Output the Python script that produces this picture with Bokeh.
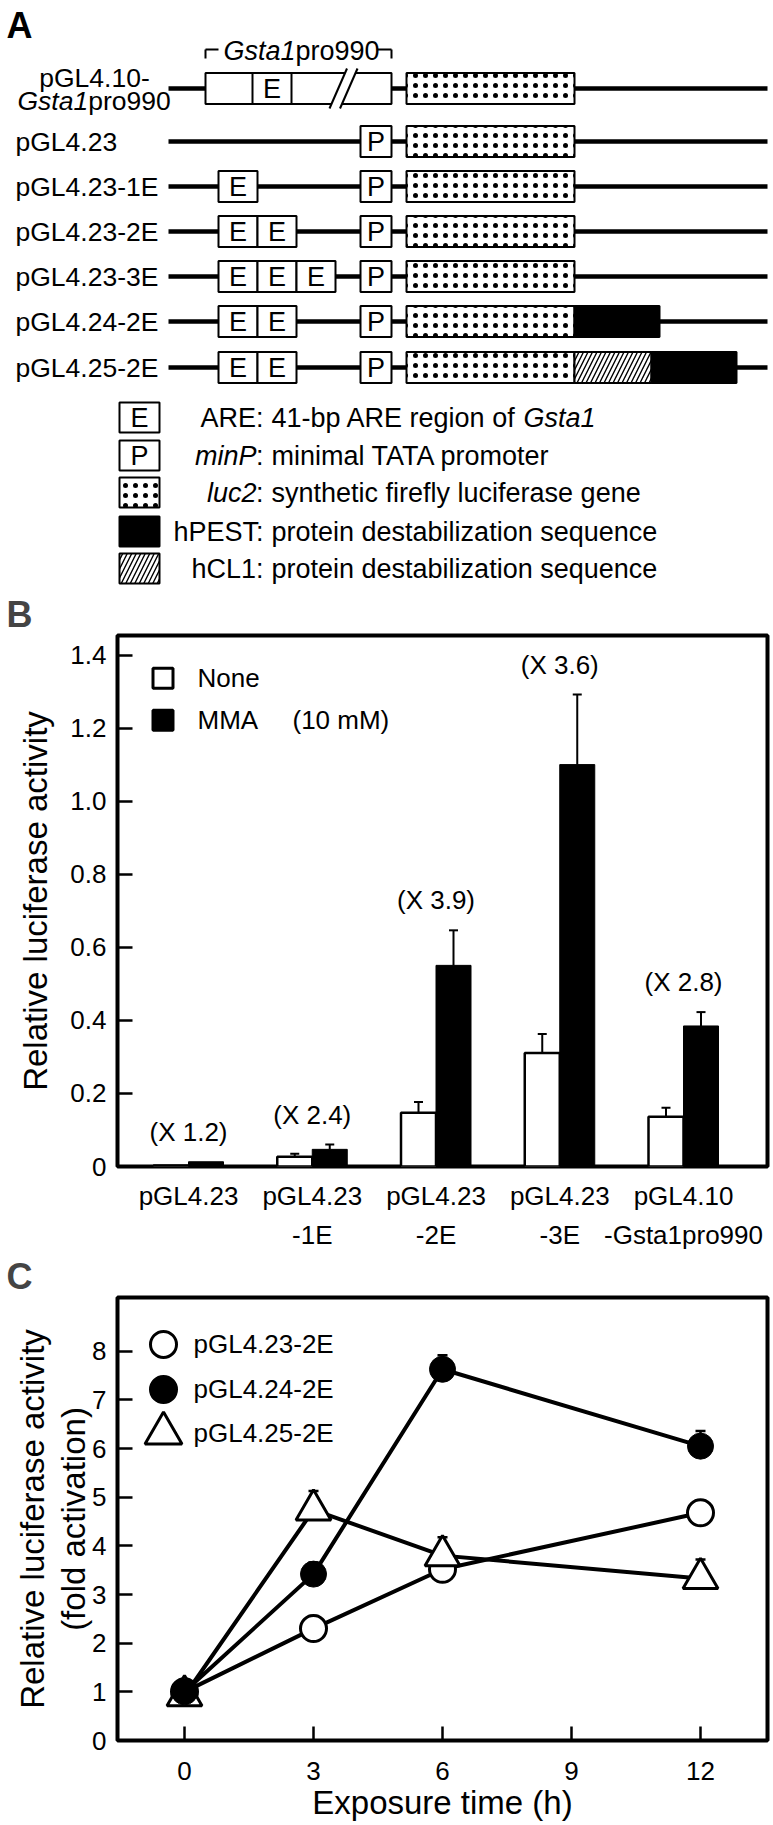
import math
from bokeh.plotting import figure
from bokeh.models import (Range1d, Label, FixedTicker, Whisker, TeeHead,
                          ColumnDataSource, PrintfTickFormatter)
from bokeh.layouts import column
from bokeh.embed import file_html
from bokeh.resources import INLINE
from bokeh.core.properties import value

FONT = "Liberation Sans"

# ---------------- data ----------------
# Panel A: reporter constructs
constructs = ["pGL4.10-Gsta1pro990", "pGL4.23", "pGL4.23-1E", "pGL4.23-2E",
              "pGL4.23-3E", "pGL4.24-2E", "pGL4.25-2E"]
are_copies = [0, 0, 1, 2, 3, 2, 2]
has_minp = [False, True, True, True, True, True, True]
tails = [[], [], [], [], [], ["hPEST"], ["hCL1", "hPEST"]]
legend_prefix = ["ARE", "minP", "luc2", "hPEST", "hCL1"]
legend_prefix_italic = [False, True, True, False, False]
legend_desc = ["41-bp ARE region of ", "minimal TATA promoter",
               "synthetic firefly luciferase gene",
               "protein destabilization sequence",
               "protein destabilization sequence"]

# Panel B: relative luciferase activity
b_groups = ["pGL4.23", "pGL4.23\n-1E", "pGL4.23\n-2E", "pGL4.23\n-3E",
            "pGL4.10\n-Gsta1pro990"]
b_none = [0.003, 0.027, 0.147, 0.311, 0.136]
b_none_err = [0.0, 0.008, 0.030, 0.052, 0.025]
b_mma = [0.013, 0.047, 0.551, 1.101, 0.385]
b_mma_err = [0.0, 0.013, 0.096, 0.192, 0.038]
b_fold = ["(X 1.2)", "(X 2.4)", "(X 3.9)", "(X 3.6)", "(X 2.8)"]
b_yticks = [0, 0.2, 0.4, 0.6, 0.8, 1.0, 1.2, 1.4]

# Panel C: fold activation time course
c_time = [0, 3, 6, 12]
c_23 = [1.0, 2.30, 3.52, 4.68]
c_23_err = [0.0, 0.26, 0.15, 0.25]
c_24 = [1.0, 3.42, 7.63, 6.05]
c_24_err = [0.0, 0.24, 0.29, 0.31]
c_25 = [0.92, 4.74, 3.80, 3.33]
c_25_err = [0.0, 0.39, 0.38, 0.39]
c_xticks = [0, 3, 6, 9, 12]
c_yticks = [0, 1, 2, 3, 4, 5, 6, 7, 8]
c_names = ["pGL4.23-2E", "pGL4.24-2E", "pGL4.25-2E"]


def lab(p, x, y, text, size="26px", align="left", style="normal",
        baseline="middle", angle=0.0, xoff=0, yoff=0):
    p.add_layout(Label(x=x, y=y, text=text, text_font=FONT, text_font_size=size,
                       text_align=align, text_baseline=baseline,
                       text_font_style=style, angle=angle, x_offset=xoff,
                       y_offset=yoff, text_color="black"))


W = 773

# ================= Panel A (schematic) =================
pa = figure(width=W, height=590, x_range=Range1d(0, W), y_range=Range1d(590, 0),
            x_axis_location=None, y_axis_location=None, toolbar_location=None,
            output_backend="svg", min_border=0, outline_line_color=None,
            frame_align=False)
pa.grid.visible = False

ROW_Y = [88, 141, 186, 231, 276, 321, 367]
BH = 15.5
ARE_X0, ARE_W = 218, 39
MINP = (360, 391)
LUC = (406, 574)
TAIL_W = {"hPEST": 85, "hCL1": 77}
AF = "27px"

lab(pa, 6, 25, "A", size="36px", style="bold")

# backbone lines
pa.segment(x0=[168] * len(ROW_Y), y0=ROW_Y, x1=[767] * len(ROW_Y), y1=ROW_Y,
           line_width=4.5, line_color="black")

white = dict(l=[], r=[], t=[], b=[])
letters = dict(x=[], y=[], t=[])
luc = dict(l=[], r=[], t=[], b=[])
black = dict(l=[], r=[], t=[], b=[])
hatch = dict(l=[], r=[], t=[], b=[])


def add(d, l, r, yc, h=BH):
    d["l"].append(l); d["r"].append(r); d["t"].append(yc - h); d["b"].append(yc + h)


for i, name in enumerate(constructs):
    yc = ROW_Y[i]
    if i == 0:
        add(white, 205, 391, yc)
        add(white, 252, 291, yc)
        letters["x"].append(271.5); letters["y"].append(yc); letters["t"].append("E")
    for k in range(are_copies[i]):
        x0 = ARE_X0 + k * ARE_W
        add(white, x0, x0 + ARE_W, yc)
        letters["x"].append(x0 + ARE_W / 2); letters["y"].append(yc); letters["t"].append("E")
    if has_minp[i]:
        add(white, MINP[0], MINP[1], yc)
        letters["x"].append((MINP[0] + MINP[1]) / 2); letters["y"].append(yc); letters["t"].append("P")
    add(luc, LUC[0], LUC[1], yc)
    x0 = LUC[1]
    for t in tails[i]:
        add(black if t == "hPEST" else hatch, x0, x0 + TAIL_W[t], yc)
        x0 += TAIL_W[t]

# legend boxes
LEG_Y = [417, 455, 492, 531, 568]
for key, yc in zip(legend_prefix, LEG_Y):
    if key == "ARE":
        add(white, 119, 159, yc, 15)
        letters["x"].append(139); letters["y"].append(yc); letters["t"].append("E")
    elif key == "minP":
        add(white, 119, 159, yc, 15)
        letters["x"].append(139); letters["y"].append(yc); letters["t"].append("P")
    elif key == "luc2":
        add(luc, 119, 159, yc, 15)
    elif key == "hPEST":
        add(black, 119, 159, yc, 15)
    else:
        add(hatch, 119, 159, yc, 15)

pa.quad(left=white["l"], right=white["r"], top=white["t"], bottom=white["b"],
        fill_color="white", line_color="black", line_width=2)
pa.quad(left=luc["l"], right=luc["r"], top=luc["t"], bottom=luc["b"],
        fill_color="white", line_color="black", line_width=2,
        hatch_pattern=".", hatch_scale=10, hatch_weight=0.6, hatch_color="black")
pa.quad(left=hatch["l"], right=hatch["r"], top=hatch["t"], bottom=hatch["b"],
        fill_color="white", line_color="black", line_width=2,
        hatch_pattern="/", hatch_scale=9, hatch_weight=1.4, hatch_color="black")
pa.quad(left=black["l"], right=black["r"], top=black["t"], bottom=black["b"],
        fill_color="black", line_color="black", line_width=2)
pa.text(x=letters["x"], y=letters["y"], text=letters["t"], text_font=value(FONT),
        text_font_size=value(AF), text_align="center", text_baseline="middle",
        text_color="black")

# break symbol on the long promoter
pa.patch(x=[329, 346.5, 357, 339.5], y=[108, 68, 68, 108], fill_color="white",
         line_color=None)
pa.segment(x0=[329, 339.5], y0=[108, 108], x1=[346.5, 357], y1=[68, 68],
           line_color="black", line_width=2)

# bracket over Gsta1pro990
pa.segment(x0=[205, 377, 205, 391], y0=[49, 49, 49, 49],
           x1=[218, 391, 205, 391], y1=[49, 49, 58, 58],
           line_color="black", line_width=2)
lab(pa, 223, 50, "Gsta1", size=AF, style="italic")
lab(pa, 223 + 72, 50, "pro990", size=AF)

# row labels
lab(pa, 94, 77, "pGL4.10-", size="26.5px", align="center")
lab(pa, 17, 100, "Gsta1", size="26.5px", style="italic")
lab(pa, 17 + 70.7, 100, "pro990", size="26.5px")
for i in range(1, len(constructs)):
    lab(pa, 15, ROW_Y[i], constructs[i], size="26.5px")

# legend texts
for key, it, desc, yc in zip(legend_prefix, legend_prefix_italic, legend_desc, LEG_Y):
    if it:
        lab(pa, 263, yc, ":", size=AF, align="right")
        lab(pa, 256, yc, key, size=AF, align="right", style="italic")
    else:
        lab(pa, 263, yc, key + ":", size=AF, align="right")
    lab(pa, 271, yc, desc, size=AF)
lab(pa, 523, LEG_Y[0], "Gsta1", size=AF, style="italic")


# ================= Panel B (bars) =================
BPX = 123.75   # px per group
BPY = 366.4    # px per unit
def bx(px): return (px - 188) / BPX
def by(py): return (1168 - py) / BPY

pb = figure(width=W, height=662, x_range=Range1d(bx(117), bx(767)),
            y_range=Range1d(0, by(635)), toolbar_location=None, output_backend="svg",
            min_border_left=117, min_border_right=6, min_border_top=45,
            min_border_bottom=84, frame_align=False, title="B")
pb.grid.visible = False
pb.outline_line_color = "black"
pb.outline_line_width = 4

idx = list(range(len(b_none)))
BW = 35 / BPX
x_none = [i - BW / 2 for i in idx]
x_mma = [i + BW / 2 for i in idx]

pb.vbar(x=x_none, top=b_none, bottom=0, width=BW, fill_color="white",
        line_color="black", line_width=2.5)
pb.vbar(x=x_mma, top=b_mma, bottom=0, width=BW, fill_color="black",
        line_color="black", line_width=1)


def whisk(p, xs, ys, es, size=9, lw=2):
    sel = [k for k in range(len(xs)) if es[k] > 0]
    src = ColumnDataSource(dict(x=[xs[k] for k in sel], lo=[ys[k] for k in sel],
                                up=[ys[k] + es[k] for k in sel]))
    p.add_layout(Whisker(source=src, base="x", lower="lo", upper="up",
                         dimension="height", lower_head=None,
                         upper_head=TeeHead(size=size, line_width=lw, line_color="black"),
                         line_width=lw, line_color="black"))


whisk(pb, x_none, b_none, b_none_err)
whisk(pb, x_mma, b_mma, b_mma_err)

for i in idx:
    lab(pb, i, b_mma[i] + b_mma_err[i], b_fold[i], align="center", yoff=30)

yax = pb.yaxis[0]
yax.ticker = FixedTicker(ticks=b_yticks)
yax.formatter = PrintfTickFormatter(format="%.1f")
yax.major_label_overrides = {0: "0"}
yax.axis_label = "Relative luciferase activity"
yax.axis_label_standoff = 13

xax = pb.xaxis[0]
xax.ticker = FixedTicker(ticks=idx)
xax.major_label_overrides = {i: g for i, g in zip(idx, b_groups)}

# legend
pb.scatter(x=[bx(162.5), bx(162.5)], y=[by(678), by(720)], marker="square", size=20,
           fill_color=["white", "black"], line_color="black", line_width=3)
lab(pb, bx(197), by(678), "None")
lab(pb, bx(197), by(720), "MMA")
lab(pb, bx(292), by(720), "(10 mM)")


# ================= Panel C (time course) =================
CPX = 43.0
CPY = 49.75
def cx(px): return (px - 184) / CPX
def cy(py): return (1743 - py) / CPY

pc = figure(width=W, height=571, x_range=Range1d(cx(117), cx(767)),
            y_range=Range1d(0, cy(1290)), toolbar_location=None, output_backend="svg",
            min_border_left=117, min_border_right=6, min_border_top=38,
            min_border_bottom=80, frame_align=False, title="C")
pc.grid.visible = False
pc.outline_line_color = "black"
pc.outline_line_width = 4
pc.xaxis.ticker = FixedTicker(ticks=c_xticks)
pc.yaxis.ticker = FixedTicker(ticks=c_yticks)
pc.yaxis.axis_label = "Relative luciferase activity\n(fold activation)"
pc.yaxis.axis_label_standoff = -3
pc.yaxis.axis_label_text_line_height = 1.1
pc.xaxis.axis_label = "Exposure time (h)"
pc.xaxis.axis_label_standoff = 1

for p in (pb, pc):
    p.title.text_font = FONT
    p.title.text_font_size = "36px"
    p.title.text_font_style = "bold"
    p.title.align = "left"
    p.title.offset = -111
    p.title.standoff = 2
    for ax in p.axis:
        ax.axis_line_color = None
        ax.major_tick_in = 15
        ax.major_tick_out = 0
        ax.major_tick_line_width = 2.5
        ax.major_tick_line_color = "black"
        ax.minor_tick_line_color = None
        ax.major_label_text_font = FONT
        ax.major_label_text_font_size = "26px"
        ax.major_label_text_color = "black"
        ax.major_label_standoff = 11
        ax.axis_label_text_font = FONT
        ax.axis_label_text_font_size = "33px"
        ax.axis_label_text_font_style = "normal"
        ax.axis_label_text_color = "black"

xax.major_tick_line_color = None
xax.major_tick_in = 0
xax.major_label_standoff = 14
xax.major_label_text_line_height = 1.3

pc.xaxis.major_label_standoff = 21
pc.xaxis.major_tick_in = 14

for ys in (c_23, c_24, c_25):
    pc.line(c_time, ys, line_width=4, line_color="black")

whisk(pc, c_time, c_23, c_23_err, size=10, lw=2.5)
whisk(pc, c_time, c_24, c_24_err, size=10, lw=2.5)
whisk(pc, c_time, c_25, c_25_err, size=10, lw=2.5)

pc.scatter(c_time, c_23, marker="circle", size=26, fill_color="white",
           line_color="black", line_width=3)
pc.scatter(c_time, c_25, marker="triangle", size=35, fill_color="white",
           line_color="black", line_width=3)
pc.scatter(c_time, c_24, marker="circle", size=26, fill_color="black",
           line_color="black", line_width=1)

# legend
leg_y = [cy(1338), cy(1384), cy(1429)]
pc.scatter([cx(163)] * 2, leg_y[:2], marker="circle", size=26,
           fill_color=["white", "black"], line_color="black", line_width=3)
pc.scatter([cx(163)], [leg_y[2]], marker="triangle", size=37, fill_color="white",
           line_color="black", line_width=3)
for nm, yy in zip(c_names, leg_y):
    lab(pc, cx(193), yy, nm)

layout = column(pa, pb, pc, spacing=0)
open("out.html", "w").write(file_html(layout, INLINE))
